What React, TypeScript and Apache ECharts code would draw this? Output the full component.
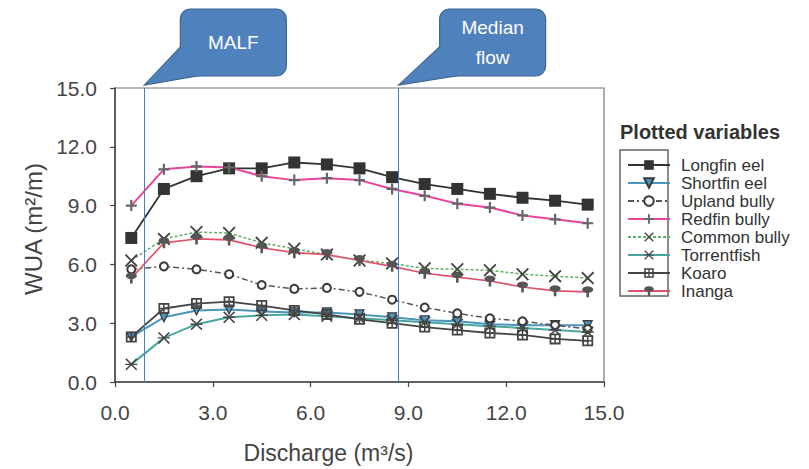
import React, { useEffect, useRef } from "react";
import * as echarts from "echarts";

const discharge = [0.5, 1.5, 2.5, 3.5, 4.5, 5.5, 6.5, 7.5, 8.5, 9.5, 10.5, 11.5, 12.5, 13.5, 14.5];
const longfinEel = [7.35, 9.85, 10.5, 10.9, 10.9, 11.2, 11.1, 10.9, 10.45, 10.1, 9.85, 9.6, 9.4, 9.25, 9.05];
const shortfinEel = [2.3, 3.3, 3.65, 3.7, 3.6, 3.55, 3.55, 3.45, 3.3, 3.15, 3.1, 2.95, 2.9, 2.9, 2.9];
const uplandBully = [5.75, 5.9, 5.75, 5.5, 4.95, 4.75, 4.8, 4.6, 4.2, 3.8, 3.5, 3.25, 3.1, 2.9, 2.7];
const redfinBully = [9.0, 10.85, 11.0, 10.95, 10.5, 10.3, 10.4, 10.3, 9.85, 9.5, 9.1, 8.9, 8.5, 8.3, 8.1];
const commonBully = [6.2, 7.3, 7.65, 7.6, 7.1, 6.8, 6.5, 6.2, 6.05, 5.8, 5.75, 5.7, 5.5, 5.4, 5.3];
const torrentfish = [0.9, 2.25, 2.95, 3.3, 3.4, 3.45, 3.35, 3.25, 3.15, 3.05, 2.95, 2.85, 2.75, 2.65, 2.55];
const koaro = [2.3, 3.75, 4.0, 4.1, 3.9, 3.65, 3.45, 3.2, 3.0, 2.8, 2.65, 2.5, 2.4, 2.2, 2.1];
const inanga = [5.3, 7.1, 7.3, 7.25, 6.85, 6.6, 6.5, 6.2, 5.9, 5.55, 5.35, 5.15, 4.85, 4.65, 4.6];

const markers = [
  { name: "MALF", x: 0.9, lines: "MALF" },
  { name: "Median flow", x: 8.7, lines: "Median\nflow" },
];
const axisTicks = { min: 0, max: 15, interval: 3 };

const FONT = "Liberation Sans, Arial, sans-serif";
const MK = "#3a3a3a";

const SYM_PLUS = "path://M4,0h2v4h4v2h-4v4h-2v-4h-4v-2h4z";
const SYM_X = "path://M0,1L1,0L5,4L9,0L10,1L6,5L10,9L9,10L5,6L1,10L0,9L4,5Z";
const SYM_STAR = "path://M0,1L1,0L5,4L9,0L10,1L6.2,4.4H10V5.6H6.2L10,9L9,10L5,6L1,10L0,9L3.8,5.6H0V4.4H3.8Z";
const SYM_KOARO = "path://M0,0H10V10H0Z M1.6,1.6V8.4H8.4V1.6Z M4.3,1.6H5.7V8.4H4.3Z M1.6,4.3H8.4V5.7H1.6Z";
const SYM_LOLLI = "path://M5,0A3,3 0 1 1 4.99,0Z M4.3,5h1.4v5h-1.4z";

export default function App() {
  const ref = useRef<HTMLDivElement>(null);
  useEffect(() => {
    if (!ref.current) return;
    const chart = echarts.init(ref.current, null, { renderer: "svg" });
    const pairs = (arr: number[]) => arr.map((v, i) => [discharge[i], v]);
    const mkSeries = (name: string, data: number[], line: any, symbol: string, size: number, item: any, extra: any = {}) => ({
      name,
      type: "line",
      data: pairs(data),
      symbol,
      symbolSize: size,
      lineStyle: line,
      itemStyle: item,
      z: 3,
      ...extra,
    });
    const series: any[] = [
      mkSeries("Longfin eel", longfinEel, { color: "#333", width: 1.8 }, "rect", 12, { color: "#333" }, {
        markLine: {
          silent: true,
          symbol: "none",
          label: { show: false },
          lineStyle: { color: "#4a7cc8", width: 1, type: "solid" },
          data: markers.map((m) => ({ xAxis: m.x })),
        },
      }),
      mkSeries("Shortfin eel", shortfinEel, { color: "#4a95bb", width: 2 }, "triangle", 9, { color: "#4a95bb", borderColor: MK, borderWidth: 1.2 }, { symbolRotate: 180 }),
      mkSeries("Upland bully", uplandBully, { color: "#555", width: 1.5, type: [6, 3, 2, 3] }, "circle", 8, { color: "#fff", borderColor: MK, borderWidth: 2 }),
      mkSeries("Redfin bully", redfinBully, { color: "#e8459a", width: 2 }, SYM_PLUS, 11, { color: "#666" }),
      mkSeries("Common bully", commonBully, { color: "#62ae62", width: 1.5, type: [3, 2] }, SYM_X, 13, { color: "#444" }),
      mkSeries("Torrentfish", torrentfish, { color: "#4aa6a0", width: 2 }, SYM_STAR, 12, { color: "#444" }),
      mkSeries("Koaro", koaro, { color: "#444", width: 1.8 }, SYM_KOARO, 11, { color: "#444" }),
      mkSeries("Inanga", inanga, { color: "#e0506a", width: 1.6 }, SYM_LOLLI, 11, { color: "#555" }),
    ];

    const axisCommon = {
      type: "value",
      ...axisTicks,
      axisLine: { show: true, onZero: false, lineStyle: { color: "#444", width: 1.5 } },
      axisTick: { show: true, inside: false, length: 5, lineStyle: { color: "#444", width: 1.2 } },
      splitLine: { show: false },
      axisLabel: { color: "#444", fontSize: 21, fontFamily: FONT, formatter: (v: number) => v.toFixed(1) },
      nameTextStyle: { color: "#444", fontSize: 23, fontFamily: FONT },
    };

    chart.setOption({
      animation: false,
      backgroundColor: "#fff",
      grid: { left: 115, top: 88, width: 489, height: 298, show: true, borderColor: "#777", borderWidth: 1.2 },
      xAxis: {
        ...axisCommon,
        name: "Discharge (m³/s)",
        nameLocation: "middle",
        nameGap: 59,
        nameTextStyle: { ...axisCommon.nameTextStyle, padding: [0, 62, 0, 0] },
        axisLabel: { ...axisCommon.axisLabel, margin: 20 },
      },
      yAxis: {
        ...axisCommon,
        name: "WUA (m²/m)",
        nameLocation: "middle",
        nameGap: 57,
        nameTextStyle: { ...axisCommon.nameTextStyle, fontSize: 24, padding: [0, 0, 0, 12] },
        axisLabel: { ...axisCommon.axisLabel, margin: 18 },
      },
      legend: {
        orient: "vertical",
        left: 622,
        top: 151,
        itemWidth: 42,
        itemHeight: 12,
        itemGap: 0,
        textStyle: { color: "#333", fontSize: 17, lineHeight: 18, fontFamily: FONT, padding: [0, 0, 0, 6] },
        data: series.map((s) => s.name),
      },
      series,
    });

    const gfx: any[] = [
      {
        type: "text",
        left: 620,
        top: 122,
        style: { text: "Plotted variables", fill: "#333", font: `bold 20px ${FONT}` },
      },
      {
        type: "rect",
        shape: { x: 620, y: 150, width: 48, height: 146 },
        style: { fill: "none", stroke: "#666", lineWidth: 1.5 },
        z: 1,
      },
    ];
    const calloutDx = [36, 41];
    markers.forEach((m, i) => {
      const [tx] = chart.convertToPixel({ gridIndex: 0 }, [m.x, 15]) as number[];
      const ty = 85;
      const bx = tx + calloutDx[i];
      const by = 9;
      const bw = 106;
      const bh = 67;
      gfx.push({
        type: "polygon",
        shape: { points: [[bx + 2, by + 36], [tx, ty], [bx + 22, by + bh - 1]] },
        style: { fill: "#4f81bd", stroke: "#3b6590", lineWidth: 1.2 },
        z: 10,
      });
      gfx.push({
        type: "rect",
        shape: { x: bx, y: by, width: bw, height: bh, r: 10 },
        style: { fill: "#4f81bd", stroke: "#3b6590", lineWidth: 1.2 },
        z: 11,
      });
      gfx.push({
        type: "polygon",
        shape: { points: [[bx + 1, by + 38], [tx + 3, ty - 3], [bx + 20, by + bh - 1]] },
        style: { fill: "#4f81bd" },
        z: 12,
      });
      gfx.push({
        type: "text",
        x: bx + bw / 2,
        y: by + bh / 2,
        style: {
          text: m.lines,
          fill: "#fff",
          font: `19px ${FONT}`,
          align: "center",
          verticalAlign: "middle",
          lineHeight: 30,
        },
        z: 13,
      });
    });
    chart.setOption({ graphic: gfx });
    return () => chart.dispose();
  }, []);
  return (
    <div
      ref={ref}
      style={{ position: "fixed", left: 0, top: 0, width: 809, height: 469, background: "#fff" }}
    />
  );
}
